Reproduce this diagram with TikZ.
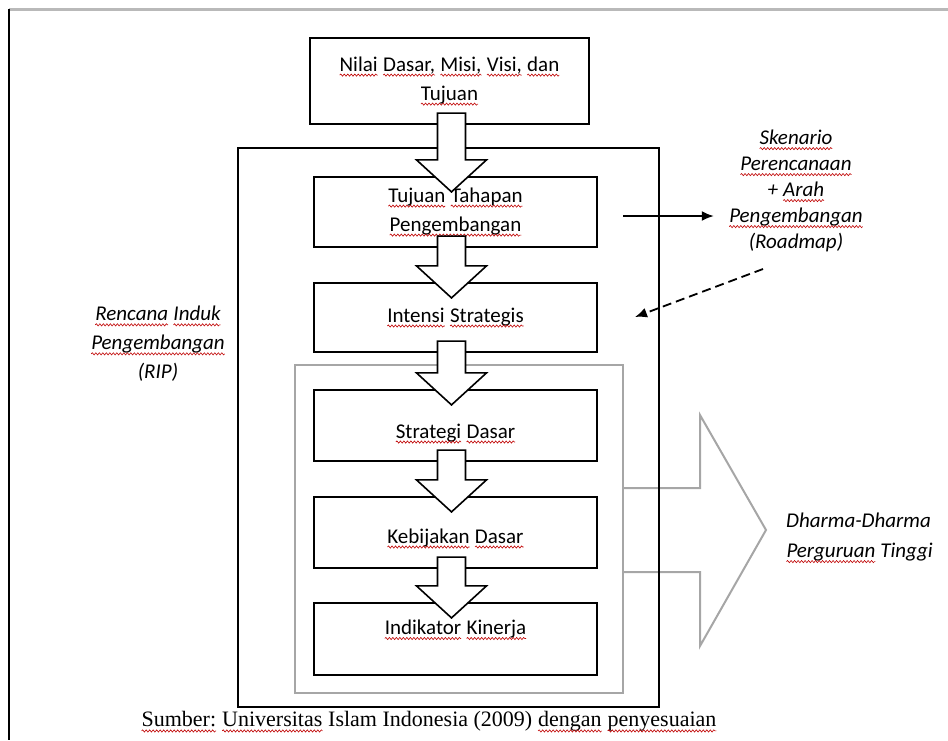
\documentclass[tikz,border=0pt]{standalone}
\usepackage{fontspec}
\setmainfont{Carlito}
\newfontfamily\timesfont{Liberation Serif}
\usetikzlibrary{calc}
\usetikzlibrary{arrows.meta}
\usetikzlibrary{decorations.pathmorphing}

% red wavy underline of the spell checker
\newcommand{\sq}[1]{\tikz[baseline=(w.base), x=1pt, y=1pt]{%
	\node[inner sep=0pt, outer sep=0pt, minimum width=0pt, minimum height=0pt, text height=, text depth=, anchor=base, draw=none, fill=none] (w) {#1};
	\draw[red!75!black, line width=0.6pt, decorate, decoration={snake, amplitude=1.1pt, segment length=3.5pt}]
		([yshift=-4pt]w.base west) -- ([yshift=-4pt]w.base east);}}

% white block arrow from box #1 down into box #2
\newcommand{\blockdown}[2]{%
	\draw[BlockStyle] let \p1 = ($(#1.south)+(0,-12)$), \p2 = ($(#2.north)+(-4,16)$) in
		(\x2-14pt,\y1) -- (\x2+14pt,\y1) -- (\x2+14pt,\y2+32pt) -- (\x2+35pt,\y2+32pt)
		-- (\x2,\y2) -- (\x2-35pt,\y2+32pt) -- (\x2-14pt,\y2+32pt) -- cycle;}

\begin{document}
\begin{tikzpicture}[x=1pt,y=-1pt]
		\useasboundingbox (0,0) rectangle (948,740);
		
		\tikzset{BoxStyle/.style = {draw, line width = 2.2pt, inner sep = 0pt, align = center, font = \fontsize{21}{29}\selectfont}}
		\tikzset{GrayStyle/.style = {draw = gray!70, line width = 2pt}}
		\tikzset{BlockStyle/.style = {draw, fill = white, line width = 1.6pt, line join = miter}}
		\tikzset{NoteStyle/.style = {align = center, inner sep = 0pt, font = \itshape\fontsize{21}{26}\selectfont}}
		\tikzset{>={Latex[length=12pt,width=10pt]}}
		\tikzset{EdgeStyle/.style = {->, line width = 1.8pt}}
		
		% page edges
		\draw[gray!55, line width = 3pt] (9,9) -- (948,9);
		\draw[line width = 2.5pt] (9,9) -- (9,740);
		
		\node[GrayStyle, minimum width = 328, minimum height = 328] (grp) at (459,529) {};
		\draw[GrayStyle] ($(grp.east)+(0,-41)$) -- ++(76,0) -- ++(0,-73) -- ++(66,115)
			-- ++(-66,116) -- ++(0,-74) -- ++(-76,0);
		
		\node[BoxStyle, minimum width = 421, minimum height = 559] (rip) at (448.5,427.5) {};
		
		\node[BoxStyle, minimum width = 279, minimum height = 86] (nilai) at (449.5,81)
			{\sq{Nilai} \sq{Dasar,} \sq{Misi,} \sq{Visi,} \sq{dan}\\ \sq{Tujuan}};
		\node[BoxStyle, minimum width = 283, minimum height = 70] (tahap) at (455.5,212)
			{\sq{Tujuan} \sq{Tahapan}\\ \sq{Pengembangan}};
		\node[BoxStyle, minimum width = 283, minimum height = 69] (intensi) at (455.5,317.5)
			{\sq{Intensi} \sq{Strategis}};
		\node[BoxStyle, minimum width = 283, minimum height = 71, text height = 30pt, text depth = 5pt] (strat) at (455.5,425.5)
			{\sq{Strategi} \sq{Dasar}};
		\node[BoxStyle, minimum width = 283, minimum height = 71, text height = 26pt, text depth = 5pt] (bijak) at (455.5,532.5)
			{\sq{Kebijakan} \sq{Dasar}};
		\node[BoxStyle, minimum width = 283, minimum height = 72, text height = 10pt, text depth = 19pt] (kinerja) at (455.5,639)
			{\sq{Indikator} \sq{Kinerja}};
		
		\blockdown{nilai}{tahap}
		\blockdown{tahap}{intensi}
		\blockdown{intensi}{strat}
		\blockdown{strat}{bijak}
		\blockdown{bijak}{kinerja}
		
		\node[NoteStyle, inner xsep = 15pt] (skenario) at (796,191)
			{\sq{Skenario}\\ \sq{Perencanaan}\\ + \sq{Arah}\\ \sq{Pengembangan}\\ (Roadmap)};
		\node[NoteStyle, font = \itshape\fontsize{21}{29}\selectfont] (induk) at (158,344)
			{\sq{Rencana} \sq{Induk}\\ \sq{Pengembangan}\\ (RIP)};
		\node[NoteStyle, align = left, anchor = west, font = \itshape\fontsize{21}{30}\selectfont] (dharma) at (786,538)
			{Dharma-Dharma\\ \sq{Perguruan} Tinggi};
		
		\coordinate (rs) at (623,216);
		\coordinate (ds) at (763,269);
		\coordinate (de) at (635,317);
		\draw[EdgeStyle] (rs) -- (rs -| skenario.west);
		\draw[EdgeStyle, dash pattern = on 9pt off 5pt] (ds) -- (de);
		
		\node[font = \timesfont\fontsize{22}{24}\selectfont, inner sep = 0pt] (sumber) at (429,722)
			{\sq{Sumber:} \sq{Universitas} Islam Indonesia (2009) \sq{dengan} \sq{penyesuaian}};
\end{tikzpicture}
\end{document}
